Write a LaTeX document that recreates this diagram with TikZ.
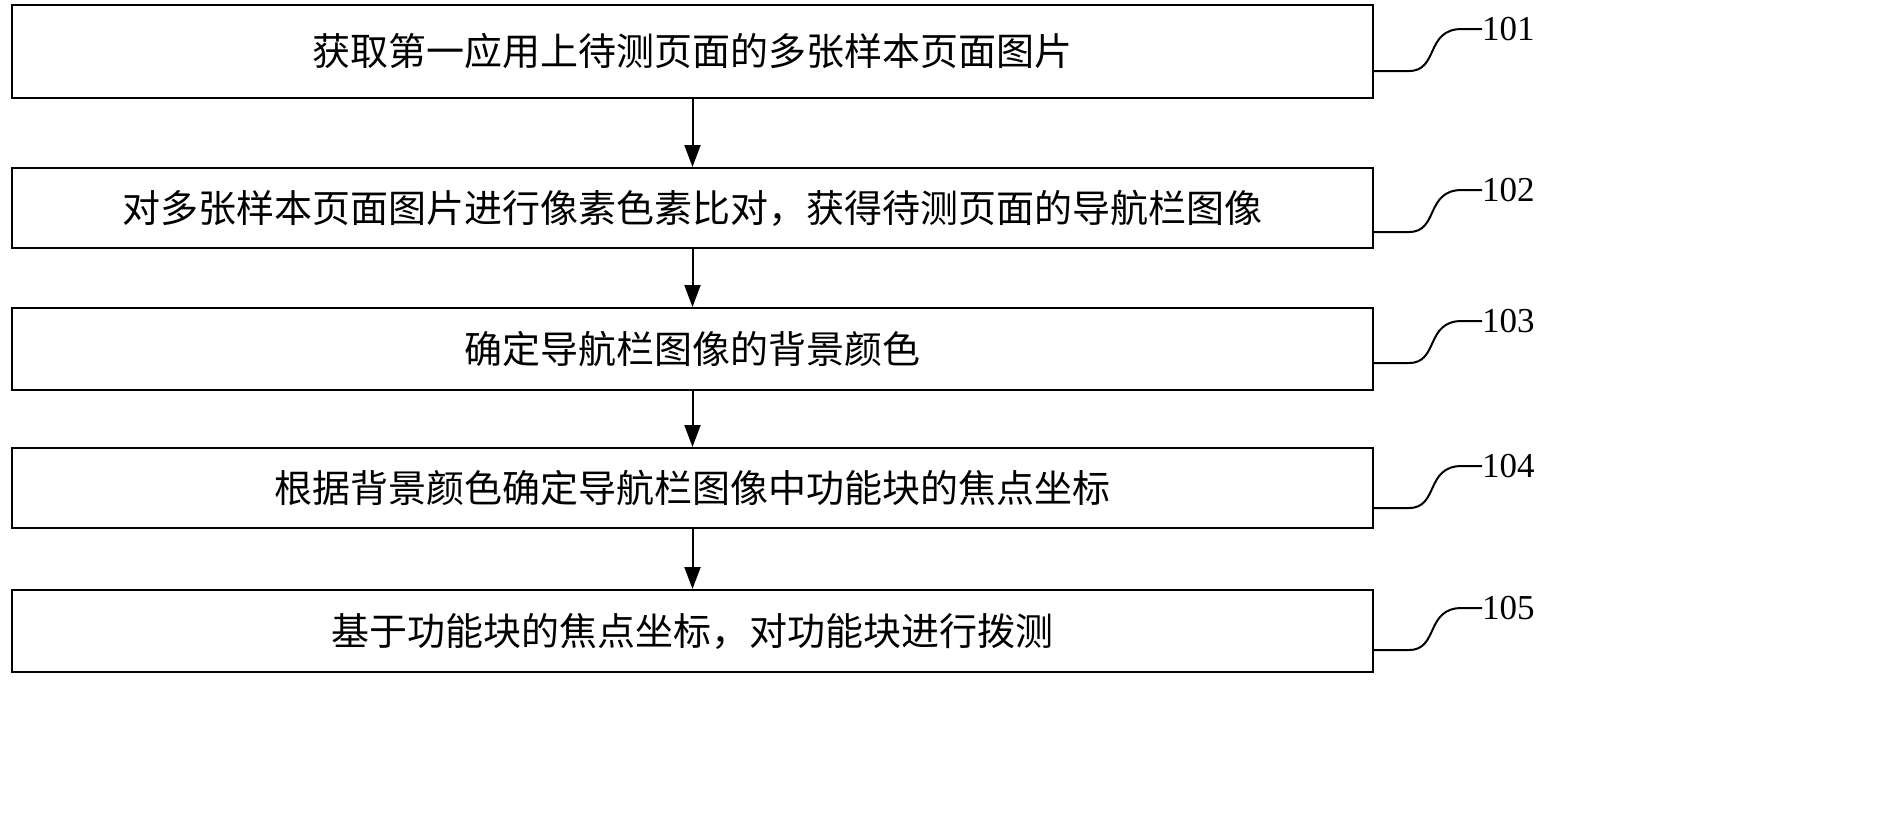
\documentclass[tikz,border=0pt]{standalone}
\usepackage{fontspec}
\newfontfamily\cjk{Noto Sans CJK SC}
\setmainfont{Liberation Serif}
\usetikzlibrary{arrows.meta}
\begin{document}
\begin{tikzpicture}[x=1pt,y=-1pt,
  box/.style={draw,line width=2pt,minimum width=1361pt,inner sep=0pt,font=\cjk\fontsize{38}{42}\selectfont},
  arr/.style={-{Triangle[length=22pt,width=16pt]},line width=2pt},
  lead/.style={line width=2pt},
  lbl/.style={font=\fontsize{35}{38}\selectfont,anchor=west,inner sep=0pt}]
\useasboundingbox (0,0) rectangle (1901,835);
\node[box,minimum height=93pt] (b1) at (692.5,51.5) {获取第一应用上待测页面的多张样本页面图片};
\node[box,minimum height=80pt] (b2) at (692.5,208) {对多张样本页面图片进行像素色素比对，获得待测页面的导航栏图像};
\node[box,minimum height=82pt] (b3) at (692.5,349) {确定导航栏图像的背景颜色};
\node[box,minimum height=80pt] (b4) at (692.5,488) {根据背景颜色确定导航栏图像中功能块的焦点坐标};
\node[box,minimum height=82pt] (b5) at (692.5,631) {基于功能块的焦点坐标，对功能块进行拨测};
\foreach \a/\b in {b1/b2,b2/b3,b3/b4,b4/b5}
  \draw[arr] (\a.south) -- (\b.north);
\foreach \n/\y/\t in {b1/29/101,b2/190/102,b3/321/103,b4/466/104,b5/608/105}{
  \node[lbl] (l\n) at (1482,\y) {\t};
  \draw[lead] (\n.east|-0,\y+42) -- +(35,0) .. controls +(30,0) and (1425,\y) .. (1462,\y) -- (l\n.west);
}
\end{tikzpicture}
\end{document}
